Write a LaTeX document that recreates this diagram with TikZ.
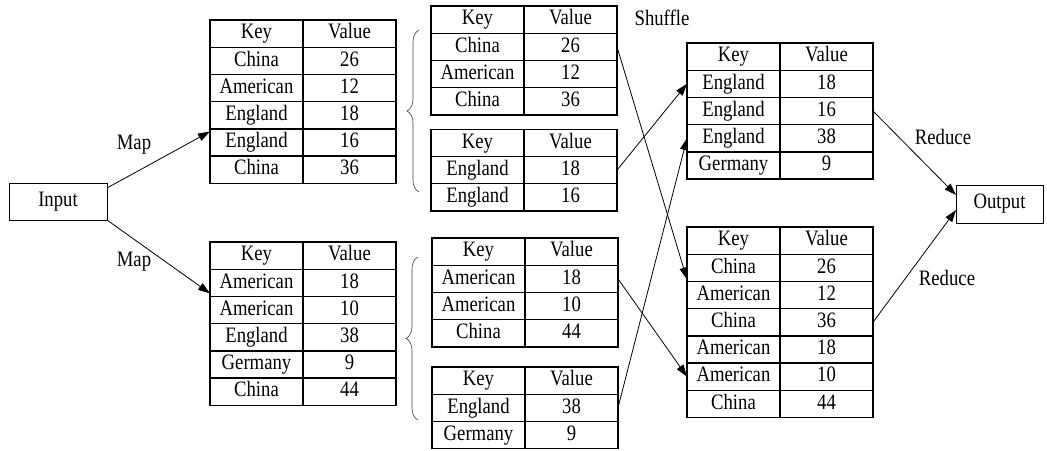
\documentclass[tikz,border=0pt]{standalone}
\usepackage{fontspec}
\setmainfont{Liberation Serif}
\usetikzlibrary{arrows.meta,decorations.pathreplacing}

% narrow, tall lettering used throughout
\newcommand\tx[1]{\scalebox{0.85}[1]{#1}}

% Key/Value table: #1 name, #2 left x, #3 top y, #4 rows as key/value pairs
\newcommand\kvtable[4]{%
  \foreach [count=\i] \k/\v in {#4} {
    \node[cell] (#1-\i-1) at (#2+46.5, #3+13.6+27.2*\i-27.2) {\tx{\k}};
    \node[cell] (#1-\i-2) at (#2+139.5, #3+13.6+27.2*\i-27.2) {\tx{\v}};
  }%
}

\begin{document}
\begin{tikzpicture}[x=1pt,y=-1pt,
  font=\fontsize{22}{24}\selectfont,
  cell/.style={draw, line width=1.4pt, minimum width=93pt, minimum height=27.2pt,
    inner sep=0pt, outer sep=0pt, text height=15pt, text depth=4.5pt},
  endbox/.style={draw, line width=0.9pt, inner sep=0pt, outer sep=0pt},
  arr/.style={-{Triangle[length=12pt,width=8pt]}, line width=0.8pt},
  curly/.style={draw=black!75, line width=0.6pt, decorate,
    decoration={brace, amplitude=12pt}},
  lbl/.style={inner sep=0pt}]

\fill[white] (0,0) rectangle (1047,450);
\useasboundingbox (0,0) rectangle (1047,450);

% input and output
\node[endbox, minimum width=98pt, minimum height=37pt] (input) at (58,201.5) {\tx{Input}};
\node[endbox, minimum width=87pt, minimum height=38pt] (output) at (999.5,204) {\tx{Output}};

% map results
\kvtable{mapA}{210}{20}{Key/Value, China/26, American/12, England/18, England/16, China/36}
\kvtable{mapB}{210}{242}{Key/Value, American/18, American/10, England/38, Germany/9, China/44}

% partitions
\kvtable{partA}{431}{6}{Key/Value, China/26, American/12, China/36}
\kvtable{partB}{431}{129.3}{Key/Value, England/18, England/16}
\kvtable{partC}{432}{238}{Key/Value, American/18, American/10, China/44}
\kvtable{partD}{432}{367}{Key/Value, England/38, Germany/9}

% reduce inputs
\kvtable{redA}{687}{43}{Key/Value, England/18, England/16, England/38, Germany/9}
\kvtable{redB}{687}{227}{Key/Value, China/26, American/12, China/36, American/18, American/10, China/44}

% braces grouping the partitions
\coordinate (bAbot) at (419,192);
\coordinate (bAtop) at (419,30);
\coordinate (bBbot) at (418,420);
\coordinate (bBtop) at (418,257);
\path[curly] (bAbot) -- (bAtop);
\path[curly] (bBbot) -- (bBtop);

% labels
\node[lbl] (map1) at (134,145) {\tx{Map}};
\node[lbl] (map2) at (134,262) {\tx{Map}};
\node[lbl] (shuffle) at (662,18) {\tx{Shuffle}};
\node[lbl] (reduce1) at (943,137) {\tx{Reduce}};
\node[lbl] (reduce2) at (947,278) {\tx{Reduce}};

% map arrows
\draw[arr] ([yshift=13.5pt]input.east) -- ([yshift=-2.7pt]mapA-4-1.south west);
\draw[arr] (input.south east) -- ([yshift=3pt]mapB-2-1.south west);

% shuffle arrows
\draw[arr] (partA-2-2.east) -- ([yshift=2pt]redB-2-1.south west);
\draw[arr] (partB-2-2.east) -- (redA-2-1.west);
\draw[arr] (partC-2-2.east) -- (redB-6-1.west);
\draw[arr] (partD-2-2.east) -- (redA-4-1.west);

% reduce arrows
\draw[arr] (redA-3-2.east) -- ([yshift=9pt]output.west);
\draw[arr] (redB-4-2.east) -- ([yshift=-6pt]output.west);
\end{tikzpicture}
\end{document}
